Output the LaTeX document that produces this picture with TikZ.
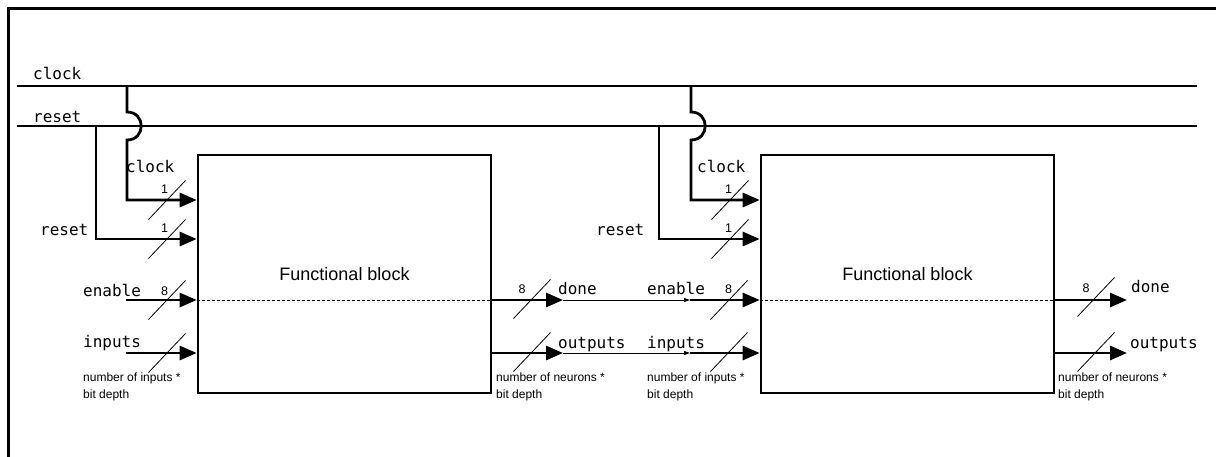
\documentclass[tikz,border=0pt]{standalone}
\usepackage{fontspec}
\setmainfont{Liberation Sans}
\newfontfamily\sigfont{DejaVu Sans Mono}
\usetikzlibrary{arrows.meta}

% bus-width slash across a wire, centred at (#1,#2)
\newcommand\bitmark[2]{\draw[slash] (#1-18.5,#2+19.5) -- ++(37,-39);}

\begin{document}
\begin{tikzpicture}[x=1pt,y=-1pt,
  bus/.style={line width=2.8pt},
  wire/.style={line width=2.8pt, -{Triangle[length=17pt,width=14pt]}},
  thinwire/.style={line width=0.9pt, -{Triangle[length=6pt,width=4pt]}},
  block/.style={draw, line width=2.6pt, minimum width=293pt, minimum height=238pt,
    inner sep=0pt, font=\fontsize{18}{20}\selectfont},
  sig/.style={font=\sigfont\fontsize{16}{18}\selectfont, anchor=base west, inner sep=0pt},
  bits/.style={font=\fontsize{12.5}{13}\selectfont, anchor=base, inner sep=0pt},
  note/.style={font=\fontsize{12}{16.5}\selectfont, anchor=base west, align=left, inner sep=0pt},
  slash/.style={line width=0.8pt},
  passline/.style={line width=0.8pt, dash pattern=on 3pt off 2pt},
]
\useasboundingbox (0,0) rectangle (1216,456);

% outer frame
\draw[line width=3pt] (8,480) -- (8,8) -- (1240,8);

% global clock and reset buses
\coordinate (clkL) at (17,86);  \coordinate (clkR) at (1197,86);
\coordinate (rstL) at (17,126); \coordinate (rstR) at (1197,126);
\draw[bus] (clkL) -- (clkR);
\draw[bus] (rstL) -- (rstR);
\node[sig] (clkname) at (33,79) {clock};
\node[sig] (rstname) at (33,122) {reset};

% the two functional blocks
\node[block] (b1) at (344.5,274) {Functional block};
\node[block] (b2) at (907.5,274) {Functional block};

% ---------- block 1 inputs ----------
\coordinate (t1c) at (127,86);
\coordinate (t1r) at (96,126);
\draw[wire] (t1c) -- (127,112) .. controls (146,112) and (146,140) .. (127,140)
  |- (b1.west |- 0,200);
\draw[wire] (t1r) |- (b1.west |- 0,239);
\node[sig] (c1lab) at (126,172.5) {clock};
\node[sig] (r1lab) at (40,235.5) {reset};
\bitmark{167}{200}
\bitmark{167}{239}
\node[bits] (c1w) at (164.5,193) {1};
\node[bits] (r1w) at (164.5,232) {1};

\coordinate (e1) at (126,300);
\coordinate (i1) at (126,353);
\draw[wire] (e1) -- (b1.west |- e1);
\draw[wire] (i1) -- (b1.west |- i1);
\draw[passline] (b1.west |- e1) -- (b1.east |- e1);
\node[sig] (e1lab) at (83,296) {enable};
\node[sig] (i1lab) at (83,347) {inputs};
\bitmark{167}{300}
\bitmark{167}{353}
\node[bits] (e1w) at (164.5,295) {8};
\node[note] (i1note) at (83,398) {number of inputs *\\bit depth};

% ---------- block 1 outputs, chained into block 2 ----------
\coordinate (d1) at (563,300);  \coordinate (d1n) at (690,300);
\coordinate (o1) at (563,353);  \coordinate (o1n) at (690,353);
\draw[wire] (b1.east |- d1) -- (d1);
\draw[wire] (b1.east |- o1) -- (o1);
\draw[thinwire] (d1) -- (d1n);
\draw[thinwire] (o1) -- (o1n);
\draw[wire] (d1n) -- (b2.west |- d1n);
\draw[wire] (o1n) -- (b2.west |- o1n);
\node[sig] (d1lab) at (558,294) {done};
\node[sig] (o1lab) at (558,348) {outputs};
\bitmark{532}{299}
\bitmark{532}{352}
\node[bits] (d1w) at (522,293) {8};
\node[note] (o1note) at (496,398) {number of neurons *\\bit depth};

% ---------- block 2 inputs ----------
\coordinate (t2c) at (691,86);
\coordinate (t2r) at (659,126);
\draw[wire] (t2c) -- (691,112) .. controls (710,112) and (710,140) .. (691,140)
  |- (b2.west |- 0,200);
\draw[wire] (t2r) |- (b2.west |- 0,239);
\node[sig] (c2lab) at (697,172.5) {clock};
\node[sig] (r2lab) at (596,235.5) {reset};
\bitmark{730}{200}
\bitmark{730}{239}
\node[bits] (c2w) at (728.5,193) {1};
\node[bits] (r2w) at (728.5,232) {1};

\draw[passline] (b2.west |- d1n) -- (b2.east |- d1n);
\node[sig] (e2lab) at (647,294) {enable};
\node[sig] (i2lab) at (647,348) {inputs};
\bitmark{729}{300}
\bitmark{729}{352}
\node[bits] (e2w) at (728.5,293) {8};
\node[note] (i2note) at (647,398) {number of inputs *\\bit depth};

% ---------- block 2 outputs ----------
\coordinate (d2) at (1127,300);
\coordinate (o2) at (1127,353);
\draw[wire] (b2.east |- d2) -- (d2);
\draw[wire] (b2.east |- o2) -- (o2);
\node[sig] (d2lab) at (1131,292) {done};
\node[sig] (o2lab) at (1130,348) {outputs};
\bitmark{1096}{297}
\bitmark{1096}{352}
\node[bits] (d2w) at (1086,292) {8};
\node[note] (o2note) at (1058,398) {number of neurons *\\bit depth};
\end{tikzpicture}
\end{document}
